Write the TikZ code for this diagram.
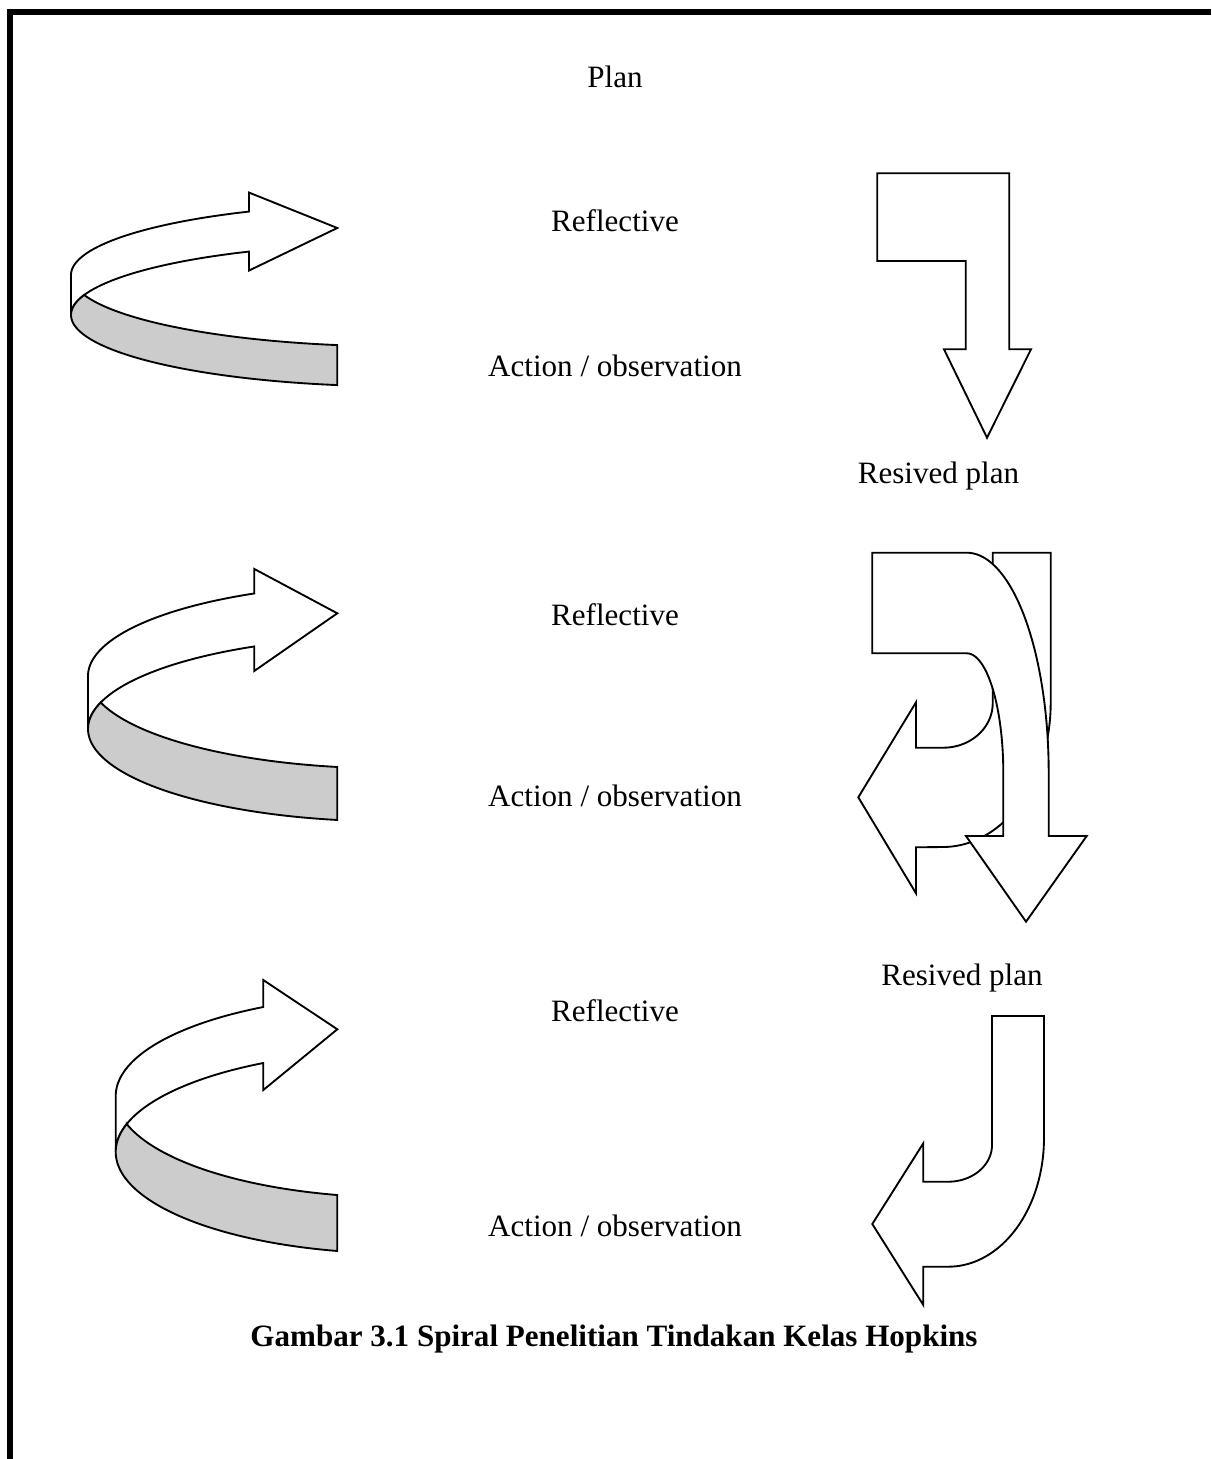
\documentclass[tikz,border=0pt]{standalone}
\usepackage{fontspec}
\setmainfont{Liberation Serif}
\tikzset{
  shp/.style={draw=black, line width=1.4pt, fill=white, line join=miter},
  band/.style={draw=black, line width=1.4pt, fill=black!20, line join=miter},
  lbl/.style={font=\fontsize{23.3}{28}\selectfont, anchor=base, inner sep=0pt},
  captiontext/.style={font=\fontsize{23.3}{28}\selectfont\bfseries, anchor=base, inner sep=0pt},
  framerule/.style={line width=4.5pt, line cap=butt, line join=miter}
}
% #1 cx, #2 cy top ellipse, #3 cy bottom ellipse, #4 x radius, #5 y radius,
% #6 x of arrow-head back, #7 half height of head, #8 tip x, #9 tip y
\newcommand\mycurvedarrow[9]{%
  \pgfmathsetmacro\myta{360-acos((#6-#1)/#4)}%
  \pgfmathsetmacro\mytr{acos((337.3-#1)/#4)}%
  \pgfmathsetmacro\myti{asin((#3-#2)/(2*#5))}%
  \pgfmathsetmacro\myyo{#2+#5*sin(\myta)}%
  \pgfmathsetmacro\myyi{#3+#5*sin(\myta)}%
  \pgfmathsetmacro\myym{(\myyo+\myyi)/2}%
  \pgfmathsetmacro\mytia{180-\myti}%
  \pgfmathsetmacro\mytib{180+\myti}%
  \draw[shp] plot[domain=\myta:180, samples=60] ({#1+#4*cos(\x)},{#2+#5*sin(\x)})
    -- plot[domain=180:\myta, samples=60] ({#1+#4*cos(\x)},{#3+#5*sin(\x)})
    -- (#6,\myym+#7) -- (#8,#9) -- (#6,\myym-#7) -- cycle;
  \draw[band] plot[domain=\mytia:\mytr, samples=60] ({#1+#4*cos(\x)},{#2+#5*sin(\x)})
    -- plot[domain=\mytr:\mytib, samples=60] ({#1+#4*cos(\x)},{#3+#5*sin(\x)}) -- cycle;
}
\begin{document}
\begin{tikzpicture}[x=0.75pt, y=-0.75pt]
\useasboundingbox (0,0) rectangle (1211,1459);
\fill[white] (0,0) rectangle (1211,1459);

% frame
\draw[framerule] (10.3,1459) -- (10.3,12.5) -- (1211,12.5);

% labels
\node[lbl] (plan) at (615,88) {Plan};
\node[lbl] (refl1) at (615,231) {Reflective};
\node[lbl] (act1) at (615,376) {Action / observation};
\node[lbl] (rev1) at (938.5,483) {Resived plan};
\node[lbl] (refl2) at (615,625) {Reflective};
\node[lbl] (act2) at (615,806) {Action / observation};
\node[lbl] (rev2) at (962,985) {Resived plan};
\node[lbl] (refl3) at (615,1021) {Reflective};
\node[lbl] (act3) at (615,1236) {Action / observation};
\node[captiontext] (caption) at (614,1346) {Gambar 3.1 Spiral Penelitian Tindakan Kelas Hopkins};

% curved arrows on the left
\mycurvedarrow{400}{275}{315}{329}{71.4}{249}{39}{337.3}{228}
\mycurvedarrow{390}{676}{729}{302}{92.4}{254.3}{51}{337.3}{613.3}
\mycurvedarrow{400}{1096}{1152}{284.3}{101.5}{263.3}{55}{337.3}{1029.3}

% right arrow 1 (bent down arrow)
\draw[shp] (877.3,173.3) -- (1009.3,173.3) -- (1009.3,349.3) -- (1031,349.3)
  -- (987,437.7) -- (944,349.3) -- (965.7,349.3) -- (965.7,261) -- (877.3,261) -- cycle;

% right arrow 2: J-shaped arrow behind
\draw[shp] (992.7,552.7) -- (1050.7,552.7) -- (1050.7,703)
  -- plot[domain=0:90, samples=40] ({943+107.7*cos(\x)},{703+144*sin(\x)})
  -- (916,847.3) -- (916,893.3) -- (858.3,797.3) -- (916,702.3) -- (916,747.7)
  -- plot[domain=90:0, samples=40] ({943.3+49.4*cos(\x)},{703.3+44.4*sin(\x)})
  -- cycle;
% right arrow 2: rounded bent down arrow in front
\draw[shp] (872.3,552.7) -- (966.7,552.7)
  -- plot[domain=270:360, samples=50] ({966.7+82*cos(\x)},{773+220.3*sin(\x)})
  -- (1048.7,836) -- (1086.7,836) -- (1026,921.7) -- (966,836) -- (1003.3,836)
  -- plot[domain=360:270, samples=50] ({966.7+36.6*cos(\x)},{773+119.7*sin(\x)})
  -- (872.3,653.3) -- cycle;

% right arrow 3: J-shaped arrow
\draw[shp] (992,1016) -- (1044,1016) -- (1044,1138)
  -- plot[domain=0:90, samples=40] ({948.3+95.7*cos(\x)},{1138+128.7*sin(\x)})
  -- (923.3,1266.7) -- (923.3,1305) -- (872.3,1224) -- (923.3,1143.3) -- (923.3,1181.7)
  -- plot[domain=90:0, samples=40] ({948.3+43.7*cos(\x)},{1145+36.7*sin(\x)})
  -- cycle;
\end{tikzpicture}
\end{document}
